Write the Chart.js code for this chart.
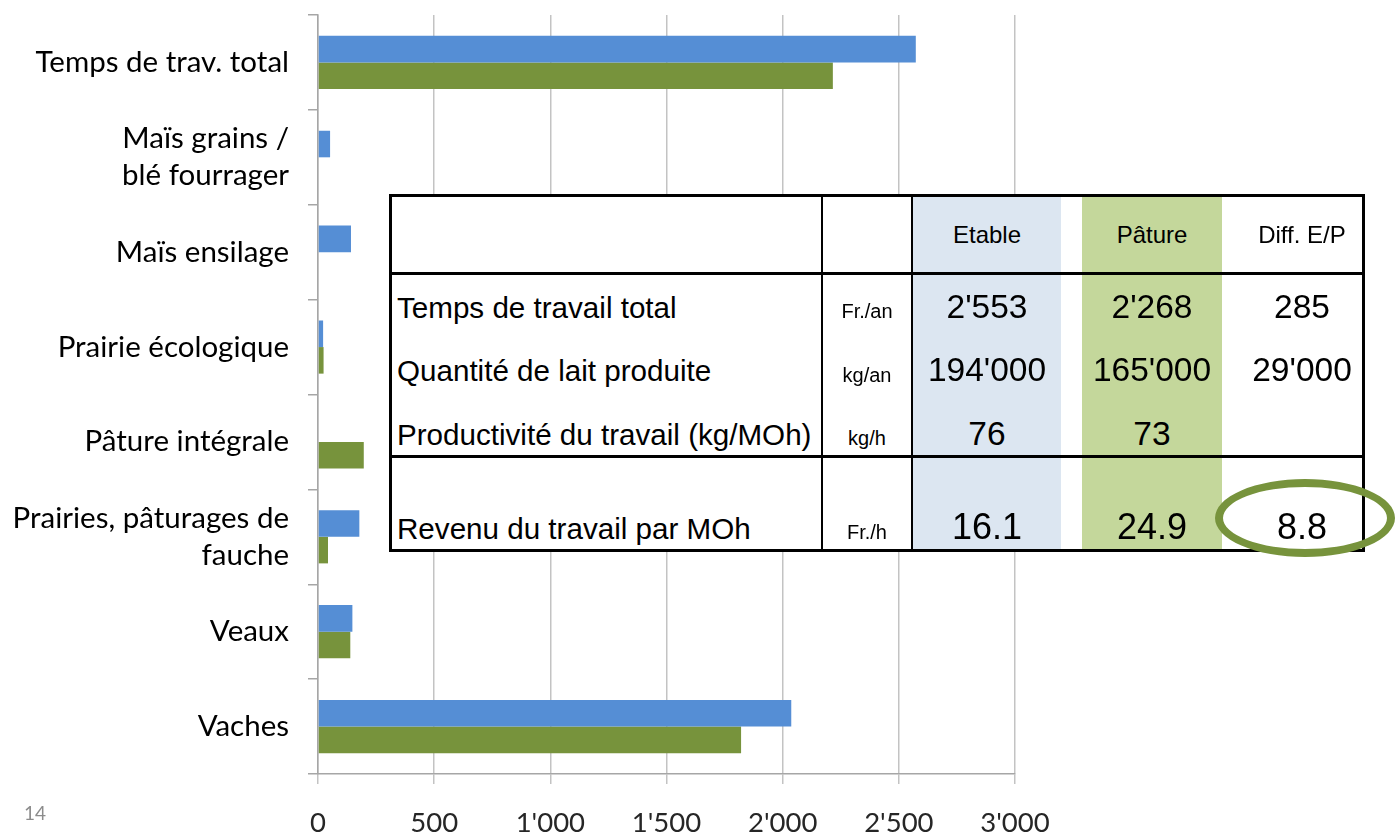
<!DOCTYPE html>
<html>
<head>
<meta charset="utf-8">
<script src="https://cdn.jsdelivr.net/npm/chart.js@4.4.1/dist/chart.umd.min.js"></script>
<style>
  html, body { margin: 0; padding: 0; background: #fff; }
  #wrap { position: relative; width: 1400px; height: 834px; overflow: hidden; }
  #chart { position: absolute; left: 0; top: 0; }
  .box { position: absolute; }
  .t { position: absolute; white-space: nowrap; line-height: 1; color: #000;
       font-family: 'Liberation Sans', Arial, sans-serif; }
</style>
</head>
<body>
<div id="wrap">
  <canvas id="chart" width="1400" height="834"></canvas>
</div>
<script>
// bar chart data (hours per year)
const categories = [
    'Temps de trav. total',
    ['Maïs grains /', 'blé fourrager'],
    'Maïs ensilage',
    'Prairie écologique',
    'Pâture intégrale',
    ['Prairies, pâturages de', 'fauche'],
    'Veaux',
    'Vaches'
];
const etable   = [2573, 52, 142, 22, 0, 178, 148, 2037];
const paturage = [2216, 0, 0, 24, 197, 43, 139, 1821];
const xMin = 0, xMax = 3000, xStep = 500;

// overlay table
const tableHeaders = ['Etable', 'Pâture', 'Diff. E/P'];
const rowLabels = ['Temps de travail total', 'Quantité de lait produite',
                   'Productivité du travail (kg/MOh)', 'Revenu du travail par MOh'];
const rowUnits = ['Fr./an', 'kg/an', 'kg/h', 'Fr./h'];
const etableVals = ["2'553", "194'000", '76', '16.1'];
const paturageVals = ["2'268", "165'000", '73', '24.9'];
const diffVals = ['285', "29'000", '', '8.8'];

function fmt(v) {
    return String(v).replace(/\B(?=(\d{3})+(?!\d))/g, "'");
}

const ctx = document.getElementById('chart');
new Chart(ctx, {
    type: 'bar',
    data: {
        labels: categories,
        datasets: [
            { label: 'Etable', data: etable, backgroundColor: '#558ed5',
              categoryPercentage: 0.56, barPercentage: 1, borderWidth: 0 },
            { label: 'Pâture', data: paturage, backgroundColor: '#77933c',
              categoryPercentage: 0.56, barPercentage: 1, borderWidth: 0 }
        ]
    },
    options: {
        indexAxis: 'y',
        responsive: false,
        animation: false,
        devicePixelRatio: 1,
        layout: { padding: { top: 15, right: 385, left: 0, bottom: 0 } },
        plugins: { legend: { display: false }, tooltip: { enabled: false } },
        scales: {
            x: {
                min: xMin, max: xMax,
                ticks: {
                    stepSize: xStep,
                    maxRotation: 0,
                    callback: v => fmt(v),
                    font: { family: 'Lato', size: 27.5 },
                    color: '#262626',
                    padding: 23
                },
                grid: { color: '#c3c3c3', lineWidth: 1.5, tickLength: 10 },
                border: { color: '#a6a6a6', width: 1.5 },
                afterFit(scale) {
                    scale.height = 60;
                    scale.paddingLeft = 0;
                    scale.paddingRight = 0;
                }
            },
            y: {
                ticks: {
                    font: { family: 'Lato', size: 29.5, lineHeight: 1.25 },
                    color: '#000',
                    padding: 19
                },
                grid: { drawOnChartArea: false, tickLength: 10, color: '#a6a6a6', lineWidth: 1.5 },
                border: { color: '#a6a6a6', width: 1.5 },
                afterFit(scale) {
                    scale.width = 318;
                    scale.paddingTop = 0;
                    scale.paddingBottom = 0;
                }
            }
        }
    }
});

// ---- table drawn over the chart ----
const wrap = document.getElementById('wrap');

function rect(x, y, w, h, css) {
    const d = document.createElement('div');
    d.className = 'box';
    d.style.left = x + 'px';
    d.style.top = y + 'px';
    d.style.width = w + 'px';
    d.style.height = h + 'px';
    Object.assign(d.style, css || {});
    wrap.appendChild(d);
    return d;
}

function txt(str, x, baseline, size, align) {
    const d = document.createElement('div');
    d.className = 't';
    d.textContent = str;
    d.style.fontSize = size + 'px';
    d.style.top = (baseline - 0.8465 * size) + 'px';
    if (align === 'center') {
        d.style.left = (x - 150) + 'px';
        d.style.width = '300px';
        d.style.textAlign = 'center';
    } else {
        d.style.left = x + 'px';
    }
    wrap.appendChild(d);
}

rect(389, 194, 976, 358, { background: '#fff' });
rect(913, 197, 148, 352, { background: '#dce6f1' });
rect(1082, 197, 140, 352, { background: '#c4d79b' });
rect(821, 196, 2, 355, { background: '#000' });
rect(911, 196, 2, 355, { background: '#000' });
rect(390, 272, 975, 3, { background: '#000' });
rect(390, 455, 975, 3, { background: '#000' });
rect(389, 194, 976, 358, { border: '3px solid #000', boxSizing: 'border-box' });

const colCenters = [987, 1152, 1302];
const rowBase = [318, 381.5, 445, 539];
tableHeaders.forEach((h, i) => txt(h, colCenters[i], 243, 24, 'center'));
rowLabels.forEach((l, i) => {
    txt(l, 397, rowBase[i], 29.6);
    txt(rowUnits[i], 867, rowBase[i], 20, 'center');
    const size = i === 3 ? 36 : 33.5;
    txt(etableVals[i], colCenters[0], rowBase[i], size, 'center');
    txt(paturageVals[i], colCenters[1], rowBase[i], size, 'center');
    txt(diffVals[i], colCenters[2], rowBase[i], size, 'center');
});

// green ring around the difference
rect(1215, 479, 180, 78, { border: '8px solid #77933c', borderRadius: '50%', boxSizing: 'border-box' });

// slide number
const num = document.createElement('div');
num.className = 't';
num.textContent = '14';
Object.assign(num.style, { left: '24px', top: '803px', fontSize: '19px', color: '#8c8c8c', fontFamily: 'Lato, sans-serif' });
wrap.appendChild(num);
</script>
</body>
</html>
